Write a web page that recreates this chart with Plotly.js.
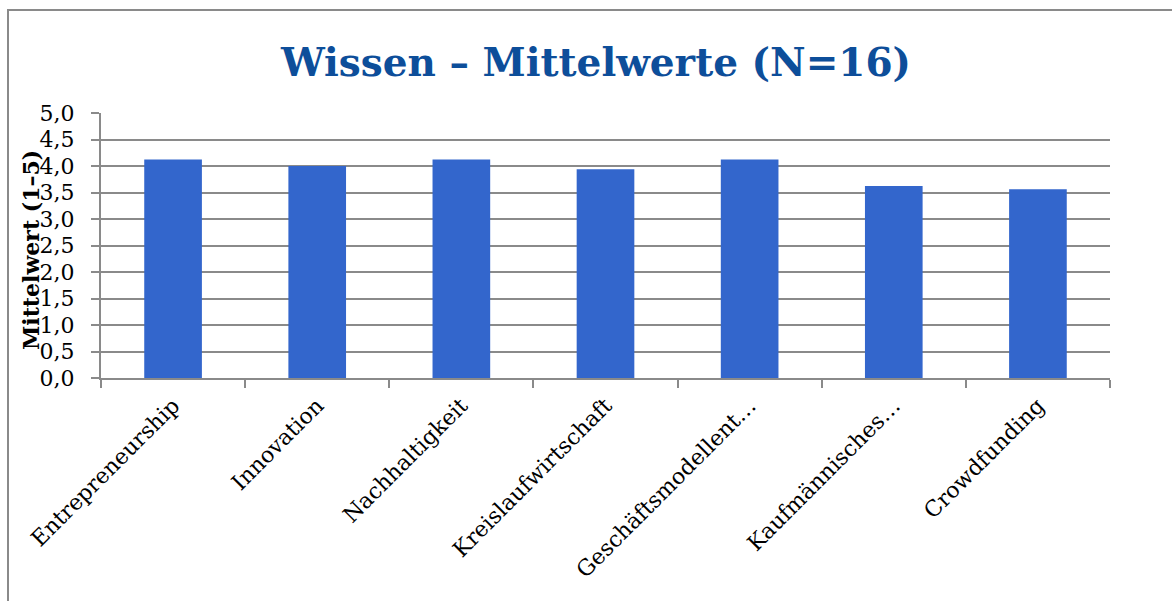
<!DOCTYPE html>
<html>
<head>
<meta charset="utf-8">
<script src="https://cdn.plot.ly/plotly-3.0.1.min.js"></script>
<style>
  html, body { margin: 0; padding: 0; background: #fff; }
  #wrap { position: relative; width: 1172px; height: 601px; overflow: hidden; }
  #frame { position: absolute; left: 7px; top: 9px; width: 1200px; height: 700px;
           border-left: 2px solid #8a8a8a; border-top: 2px solid #8a8a8a; pointer-events: none; }
  #chart { position: absolute; left: 0; top: 0; width: 1172px; height: 601px; }
</style>
</head>
<body>
<div id="wrap">
  <div id="chart"></div>
  <div id="frame"></div>
</div>
<script>
const categories = ["Entrepreneurship", "Innovation", "Nachhaltigkeit", "Kreislaufwirtschaft",
                    "Geschäftsmodellent…", "Kaufmännisches…", "Crowdfunding"];
const means = [4.125, 4.0, 4.125, 3.9375, 4.125, 3.625, 3.5625];
const yTicks = [0, 0.5, 1, 1.5, 2, 2.5, 3, 3.5, 4, 4.5, 5];
const titleText = "Wissen – Mittelwerte (N=16)";
const yTitleText = "Mittelwert (1–5)";

const serif = "DejaVu Serif, Liberation Serif, serif";

const data = [{
  type: "bar",
  x: categories,
  y: means,
  marker: { color: "#3366CC", line: { width: 0 } },
  hoverinfo: "x+y"
}];

const layout = {
  width: 1172, height: 601,
  margin: { l: 101, r: 62, t: 113, b: 223 },
  paper_bgcolor: "#ffffff",
  plot_bgcolor: "#ffffff",
  separators: ",.",
  bargap: 0.6,
  showlegend: false,
  title: {
    text: "<b>" + titleText + "</b>",
    font: { family: serif, size: 39, color: "#0D4E9A" },
    x: 596 / 1172, xanchor: "center",
    y: 0.897, yanchor: "middle"
  },
  xaxis: {
    type: "category",
    tickangle: -45,
    tickson: "boundaries",
    ticks: "outside", ticklen: 8, tickwidth: 2, tickcolor: "#8a8a8a",
    showline: true, linecolor: "#8a8a8a", linewidth: 2,
    showgrid: false,
    ticklabelstandoff: 4,
    tickfont: { family: serif, size: 22, color: "#000" },
    automargin: false
  },
  yaxis: {
    range: [0, 5],
    tickvals: yTicks,
    tickformat: ".1f",
    ticks: "outside", ticklen: 8, tickwidth: 2, tickcolor: "#8a8a8a",
    showline: true, linecolor: "#8a8a8a", linewidth: 2,
    showgrid: true, gridcolor: "#8a8a8a", gridwidth: 2,
    zeroline: false,
    ticklabelstandoff: 12,
    tickfont: { family: serif, size: 22, color: "#000" },
    automargin: false
  },
  annotations: [{
    text: "<b>" + yTitleText + "</b>",
    xref: "paper", yref: "paper",
    x: (31 - 101) / 1009, y: 0.483,
    xanchor: "center", yanchor: "middle",
    textangle: -90, showarrow: false,
    font: { family: serif, size: 22, color: "#000" }
  }]
};

Plotly.newPlot("chart", data, layout, { displayModeBar: false, staticPlot: true });
</script>
</body>
</html>
